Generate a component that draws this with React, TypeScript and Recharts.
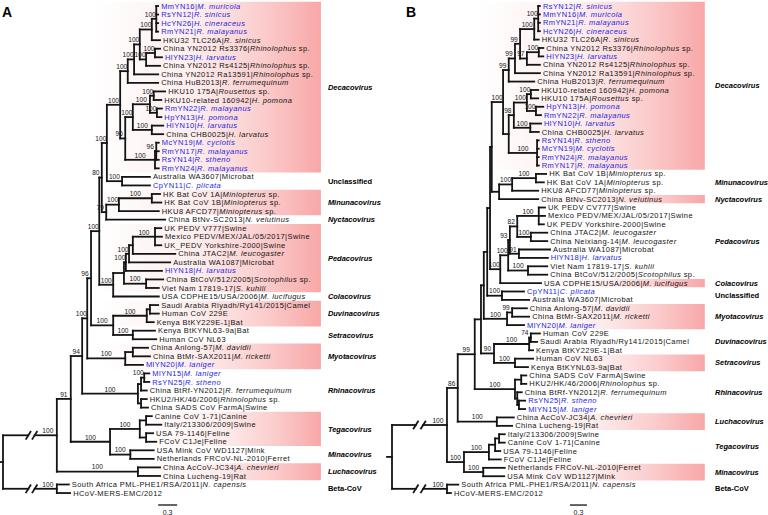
import React from "react";
import { ScatterChart, Scatter, XAxis, YAxis, ReferenceLine, ReferenceArea } from "recharts";

// leaf: [plain text, italic part, plain tail, blue?, tip depth (subs/site)]
type Leaf = [string, string, string, number, number];
// node: [id, depth, children (leaf row or node id), bootstrap]
type TreeNode = [string, number, (number | string)[], string];
// genus: [name, first row, last row, shading starts at (null = none), italic]
type Genus = [string, number, number, number | null, boolean];

const FONT = "'Liberation Sans', Arial, Helvetica, sans-serif";
const BLUE = "#2525e2";
const INK = "#141414";

const LEAVES_A: Leaf[] = [
  ["MmYN16|", "M. muricola", "", 1, 2.45],
  ["RsYN12|", "R. sinicus", "", 1, 2.45],
  ["HcYN26|", "H. cineraceus", "", 1, 2.45],
  ["RmYN21|", "R. malayanus", "", 1, 2.45],
  ["HKU32 TLC26A|", "R. sinicus", "", 0, 2.48],
  ["China YN2012 Rs3376|", "Rhinolophus", " sp.", 0, 2.48],
  ["HlYN23|", "H. larvatus", "", 1, 2.51],
  ["China YN2012 Rs4125|", "Rhinolophus", " sp.", 0, 2.48],
  ["China YN2012 Ra13591|", "Rhinolophus", " sp.", 0, 2.45],
  ["China HuB2013|", "R. ferrumequinum", "", 0, 2.45],
  ["HKU10 175A|", "Rousettus", " sp.", 0, 2.56],
  ["HKU10-related 160942|", "H. pomona", "", 0, 2.5],
  ["RmYN22|", "R. malayanus", "", 1, 2.51],
  ["HpYN13|", "H. pomona", "", 1, 2.5],
  ["HlYN10|", "H. larvatus", "", 1, 2.53],
  ["China CHB0025|", "H. larvatus", "", 0, 2.53],
  ["McYN19|", "M. cyclotis", "", 1, 2.46],
  ["RmYN17|", "R. malayanus", "", 1, 2.46],
  ["RsYN14|", "R. stheno", "", 1, 2.46],
  ["RmYN24|", "R. malayanus", "", 1, 2.46],
  ["Australia WA3607|Microbat", "", "", 0, 2.32],
  ["CpYN11|", "C. plicata", "", 1, 2.32],
  ["HK Bat CoV 1A|", "Miniopterus", " sp.", 0, 2.48],
  ["HK Bat CoV 1B|", "Miniopterus", " sp.", 0, 2.5],
  ["HKU8 AFCD77|", "Miniopterus", " sp.", 0, 2.46],
  ["China BtNv-SC2013|", "N. velutinus", "", 0, 2.56],
  ["UK PEDV V777|Swine", "", "", 0, 2.5],
  ["Mexico PEDV/MEX/JAL/05/2017|Swine", "", "", 0, 2.51],
  ["UK_PEDV Yorkshire-2000|Swine", "", "", 0, 2.5],
  ["China JTAC2|", "M. leucogaster", "", 0, 2.72],
  ["Australia WA1087|Microbat", "", "", 0, 2.64],
  ["HlYN18|", "H. larvatus", "", 1, 2.51],
  ["China BtCoV/512/2005|", "Scotophilus", " sp.", 0, 2.53],
  ["Viet Nam 17819-17|", "S. kuhlii", "", 0, 2.46],
  ["USA CDPHE15/USA/2006|", "M. lucifugus", "", 0, 2.46],
  ["Saudi Arabia Riyadh/Ry141/2015|Camel", "", "", 0, 2.45],
  ["Human CoV 229E", "", "", 0, 2.46],
  ["Kenya BtKY229E-1|Bat", "", "", 0, 2.38],
  ["Kenya BtKYNL63-9a|Bat", "", "", 0, 2.4],
  ["Human CoV NL63", "", "", 0, 2.42],
  ["China Anlong-57|", "M. davidii", "", 0, 2.29],
  ["China BtMr-SAX2011|", "M. ricketti", "", 0, 2.32],
  ["MlYN20|", "M. laniger", "", 1, 2.21],
  ["MlYN15|", "M. laniger", "", 1, 2.31],
  ["RsYN25|", "R. stheno", "", 1, 2.31],
  ["China BtRf-YN2012|", "R. ferrumequinum", "", 0, 2.27],
  ["HKU2/HK/46/2006|", "Rhinolophus", " sp.", 0, 2.27],
  ["China SADS CoV FarmA|Swine", "", "", 0, 2.29],
  ["Canine CoV 1-71|Canine", "", "", 0, 2.35],
  ["Italy/213306/2009|Swine", "", "", 0, 2.5],
  ["USA 79-1146|Feline", "", "", 0, 2.37],
  ["FCoV C1Je|Feline", "", "", 0, 2.42],
  ["USA Mink CoV WD1127|Mink", "", "", 0, 2.38],
  ["Netherlands FRCoV-NL-2010|Ferret", "", "", 0, 2.38],
  ["China AcCoV-JC34|", "A. chevrieri", "", 0, 2.48],
  ["China Lucheng-19|Rat", "", "", 0, 2.48],
  ["South Africa PML-PHE1/RSA/2011|", "N. capensis", "", 0, 1.04],
  ["HCoV-MERS-EMC/2012", "", "", 0, 1.06],
];

const NODES_A: TreeNode[] = [
  ["b1", 2.42, [0, 1, 2, 3], "100"],
  ["b2", 2.35, ["b1", 4], "100"],
  ["b3", 2.4, [5, 6], "100"],
  ["b4", 2.26, ["b3", 7], "100"],
  ["b5", 2.16, ["b2", "b4"], "100"],
  ["b6", 2.07, ["b5", 8], "100"],
  ["b7", 1.97, ["b6", 9], "100"],
  ["h1", 2.38, [10, 11], "100"],
  ["h2", 2.43, [12, 13], "100"],
  ["h3", 2.32, ["h1", "h2"], "100"],
  ["h4", 2.35, [14, 15], "100"],
  ["h5", 2.05, ["h3", "h4"], "100"],
  ["c1", 2.42, [16, 17, 18], "96"],
  ["c2", 2.4, ["c1", 19], "100"],
  ["h6", 1.93, ["h5", "c2"], "96"],
  ["dec", 1.85, ["b7", "h6"], "100"],
  ["unc", 1.88, [20, 21], "100"],
  ["n1", 1.64, ["dec", "unc"], "100"],
  ["m1", 2.35, [22, 23], "100"],
  ["m2", 1.83, ["m1", 24], "100"],
  ["n79", 1.63, ["m2", 25], "79"],
  ["n2", 1.56, ["n1", "n79"], "80"],
  ["pedv", 2.4, [26, 27, 28], "100"],
  ["pa", 2.05, ["pedv", 29], ""],
  ["pb", 1.99, ["pa", 30], "100"],
  ["pc", 1.94, ["pb", 31], "100"],
  ["pd", 2.26, [32, 33], "100"],
  ["pe", 1.91, ["pc", "pd"], ""],
  ["pf", 1.74, ["pe", 34], "100"],
  ["n3", 1.52, ["n2", "pf"], "100"],
  ["d1", 2.32, [35, 36], ""],
  ["d2", 2.27, ["d1", 37], "100"],
  ["s1", 2.05, [38, 39], "100"],
  ["ds", 1.74, ["d2", "s1"], "100"],
  ["n4", 1.39, ["n3", "ds"], "96"],
  ["my1", 2.05, [40, 41], ""],
  ["my2", 1.93, ["my1", 42], "100"],
  ["n5", 1.33, ["n4", "my2"], "100"],
  ["r1", 2.23, [43, 44], "100"],
  ["r2", 2.18, ["r1", 45], ""],
  ["r3", 2.18, [46, 47], ""],
  ["rh", 2.13, ["r2", "r3"], "100"],
  ["n6", 1.25, ["n5", "rh"], "94"],
  ["t1", 2.26, [48, 49], ""],
  ["t2", 2.26, [50, 51], ""],
  ["teg", 2.16, ["t1", "t2"], "100"],
  ["min", 2.01, [52, 53], "100"],
  ["tm", 1.69, ["teg", "min"], "100"],
  ["n7", 1.07, ["n6", "tm"], "91"],
  ["luc", 2.13, [54, 55], "100"],
  ["ing", 0.85, ["n7", "luc"], "100"],
  ["out", 0.85, [56, 57], "100"],
  ["root", 0, ["ing", "out"], ""],
];

const GENERA_A: Genus[] = [
  ["Decacovirus", 0, 19, 1.42, true],
  ["Unclassified", 20, 21, null, false],
  ["Minunacovirus", 22, 24, 1.48, true],
  ["Nyctacovirus", 25, 25, null, true],
  ["Pedacovirus", 26, 33, 1.48, true],
  ["Colacovirus", 34, 34, null, true],
  ["Duvinacovirus", 35, 37, 1.53, true],
  ["Setracovirus", 38, 39, null, true],
  ["Myotacovirus", 40, 42, 1.53, true],
  ["Rhinacovirus", 43, 47, null, true],
  ["Tegacovirus", 48, 51, 2.2, true],
  ["Minacovirus", 52, 53, null, true],
  ["Luchacovirus", 54, 55, 2.05, true],
  ["Beta-CoV", 56, 57, null, false],
];

const LEAVES_B: Leaf[] = [
  ["RsYN12|", "R. sinicus", "", 1, 2.61],
  ["MmYN16|", "M. muricola", "", 1, 2.61],
  ["RmYN21|", "R. malayanus", "", 1, 2.61],
  ["HcYN26|", "H. cineraceus", "", 1, 2.61],
  ["HKU32 TLC26A|", "R. sinicus", "", 0, 2.59],
  ["China YN2012 Rs3376|", "Rhinolophus", " sp.", 0, 2.67],
  ["HlYN23|", "H. larvatus", "", 1, 2.67],
  ["China YN2012 Rs4125|", "Rhinolophus", " sp.", 0, 2.61],
  ["China YN2012 Ra13591|", "Rhinolophus", " sp.", 0, 2.61],
  ["China HuB2013|", "R. ferrumequinum", "", 0, 2.51],
  ["HKU10-related 160942|", "H. pomona", "", 0, 2.58],
  ["HKU10 175A|", "Rousettus", " sp.", 0, 2.58],
  ["HpYN13|", "H. pomona", "", 1, 2.67],
  ["RmYN22|", "R. malayanus", "", 1, 2.63],
  ["HlYN10|", "H. larvatus", "", 1, 2.63],
  ["China CHB0025|", "H. larvatus", "", 0, 2.59],
  ["RsYN14|", "R. stheno", "", 1, 2.59],
  ["McYN19|", "M. cyclotis", "", 1, 2.59],
  ["RmYN24|", "R. malayanus", "", 1, 2.59],
  ["RmYN17|", "R. malayanus", "", 1, 2.59],
  ["HK Bat CoV 1B|", "Miniopterus", " sp.", 0, 2.72],
  ["HK Bat CoV 1A|", "Miniopterus", " sp.", 0, 2.68],
  ["HKU8 AFCD77|", "Miniopterus", " sp.", 0, 2.58],
  ["China BtNv-SC2013|", "N. velutinus", "", 0, 2.58],
  ["UK PEDV CV777|Swine", "", "", 0, 2.7],
  ["Mexico PEDV/MEX/JAL/05/2017|Swine", "", "", 0, 2.7],
  ["UK PEDV Yorkshire-2000|Swine", "", "", 0, 2.68],
  ["China JTAC2|", "M. leucogaster", "", 0, 2.74],
  ["China Neixiang-14|", "M. leucogaster", "", 0, 2.74],
  ["Australia WA1087|Microbat", "", "", 0, 2.79],
  ["HlYN18|", "H. larvatus", "", 1, 2.75],
  ["Viet Nam 17819-17|", "S. kuhlii", "", 0, 2.74],
  ["China BtCoV/512/2005|", "Scotophilus", " sp.", 0, 2.74],
  ["USA CDPHE15/USA/2006|", "M. lucifugus", "", 0, 2.63],
  ["CpYN11|", "C. plicata", "", 1, 2.33],
  ["Australia WA3607|Microbat", "", "", 0, 2.42],
  ["China Anlong-57|", "M. davidii", "", 0, 2.38],
  ["China BtMr-SAX2011|", "M. ricketti", "", 0, 2.42],
  ["MlYN20|", "M. laniger", "", 1, 2.33],
  ["Human CoV 229E", "", "", 0, 2.61],
  ["Saudi Arabia Riyadh/Ry141/2015|Camel", "", "", 0, 2.56],
  ["Kenya BtKY229E-1|Bat", "", "", 0, 2.49],
  ["Human CoV NL63", "", "", 0, 2.49],
  ["Kenya BtKYNL63-9a|Bat", "", "", 0, 2.4],
  ["China SADS CoV FarmA|Swine", "", "", 0, 2.37],
  ["HKU2/HK/46/2006|", "Rhinolophus", " sp.", 0, 2.37],
  ["China BtRf-YN2012|", "R. ferrumequinum", "", 0, 2.29],
  ["RsYN25|", "R. stheno", "", 1, 2.35],
  ["MlYN15|", "M. laniger", "", 1, 2.35],
  ["China AcCoV-JC34|", "A. chevrieri", "", 0, 2.15],
  ["China Lucheng-19|Rat", "", "", 0, 2.12],
  ["Italy/213306/2009|Swine", "", "", 0, 1.99],
  ["Canine CoV 1-71|Canine", "", "", 0, 1.99],
  ["USA 79-1146|Feline", "", "", 0, 1.91],
  ["FCoV C1Je|Feline", "", "", 0, 1.92],
  ["Netherlands FRCoV-NL-2010|Ferret", "", "", 0, 1.99],
  ["USA Mink CoV WD1127|Mink", "", "", 0, 1.98],
  ["South Africa PML-PHE1/RSA/2011|", "N. capensis", "", 0, 1.17],
  ["HCoV-MERS-EMC/2012", "", "", 0, 1.04],
];

const NODES_B: TreeNode[] = [
  ["b1", 2.58, [0, 1, 2, 3], "100"],
  ["b2", 2.51, ["b1", 4], "100"],
  ["b3", 2.59, [5, 6], "100"],
  ["b4", 2.38, ["b3", 7], "97"],
  ["b5", 2.26, ["b2", "b4"], "99"],
  ["b6", 2.17, ["b5", 8], "99"],
  ["b7", 2.06, ["b6", 9], "99"],
  ["h1", 2.45, [10, 11], "100"],
  ["h2", 2.54, [12, 13], "100"],
  ["h3", 2.38, ["h1", "h2"], "100"],
  ["h4", 2.44, [14, 15], "100"],
  ["h5", 2.15, ["h3", "h4"], "98"],
  ["c", 2.56, [16, 17, 18, 19], "100"],
  ["h6", 2.06, ["h5", "c"], ""],
  ["dec", 1.96, ["b7", "h6"], "100"],
  ["m1", 2.54, [20, 21], "100"],
  ["m2", 2.12, ["m1", 22], "100"],
  ["mn", 1.89, ["m2", 23], ""],
  ["e", 1.76, ["dec", "mn"], ""],
  ["pedv", 2.59, [24, 25, 26], "100"],
  ["jn", 2.45, [27, 28], "100"],
  ["pa", 2.21, ["pedv", "jn"], "82"],
  ["pb", 2.24, [29, 30], "91"],
  ["pc", 2.08, ["pa", "pb"], "93"],
  ["pd", 2.4, [31, 32], "100"],
  ["pe", 2.05, ["pc", "pd"], "100"],
  ["pf", 1.91, ["pe", 33], "100"],
  ["g1", 1.73, ["e", "pf"], ""],
  ["u", 1.94, [34, 35], "100"],
  ["g2", 1.68, ["g1", "u"], ""],
  ["my1", 2.12, [36, 37], "99"],
  ["my2", 2.03, ["my1", 38], "100"],
  ["g3", 1.62, ["g2", "my2"], ""],
  ["du1", 2.45, [39, 40], "74"],
  ["du2", 2.42, ["du1", 41], "100"],
  ["s", 2.17, [42, 43], "100"],
  ["ds", 1.8, ["du2", "s"], "90"],
  ["g4", 1.57, ["g3", "ds"], ""],
  ["r1", 2.28, [44, 45], ""],
  ["r2", 2.24, [47, 48], ""],
  ["r3", 2.21, [46, "r2"], ""],
  ["rh", 2.17, ["r1", "r3"], "100"],
  ["n99", 1.46, ["g4", "rh"], "99"],
  ["luc", 1.85, [49, 50], "100"],
  ["n86", 1.16, ["n99", "luc"], "86"],
  ["t1", 1.89, [51, 52], ""],
  ["t2", 1.82, ["t1", 53], ""],
  ["teg", 1.71, ["t2", 54], "100"],
  ["min", 1.61, [55, 56], "100"],
  ["tm", 1.27, ["teg", "min"], "100"],
  ["ing", 0.97, ["n86", "tm"], "100"],
  ["out", 0.97, [57, 58], "100"],
  ["root", 0, ["ing", "out"], ""],
];

const GENERA_B: Genus[] = [
  ["Decacovirus", 0, 19, 1.5, true],
  ["Minunacovirus", 20, 22, null, true],
  ["Nyctacovirus", 23, 23, 2.4, true],
  ["Pedacovirus", 24, 32, null, true],
  ["Colacovirus", 33, 33, 2.45, true],
  ["Unclassified", 34, 35, null, false],
  ["Myotacovirus", 36, 38, 2.15, true],
  ["Duvinacovirus", 39, 41, null, true],
  ["Setracovirus", 42, 43, 2.3, true],
  ["Rhinacovirus", 44, 48, null, true],
  ["Luchacovirus", 49, 50, 1.95, true],
  ["Tegacovirus", 51, 54, null, true],
  ["Minacovirus", 55, 56, 1.85, true],
  ["Beta-CoV", 57, 58, null, false],
];

interface PanelCfg {
  letter: string;
  leaves: Leaf[];
  nodes: TreeNode[];
  genera: Genus[];
  pxPerUnit: number;
  xDomain: [number, number];
  yDomain: [number, number];
  genusX: number;
  bandEnd: number;
  breaks: [number, number];
  stub: number;
  scaleAt: [number, number, number];
  letterAt: [number, number];
}

const PANELS: PanelCfg[] = [
  {
    letter: "A", leaves: LEAVES_A, nodes: NODES_A, genera: GENERA_A,
    pxPerUnit: 63.33, xDomain: [-0.0474, 6.016], yDomain: [-0.702, 59.57],
    genusX: 5.13, bandEnd: 5.02, breaks: [0.4, 0.5], stub: 0.047,
    scaleAt: [2.45, 58.4, 59.3], letterAt: [-0.016, 0.7],
  },
  {
    letter: "B", leaves: LEAVES_B, nodes: NODES_B, genera: GENERA_B,
    pxPerUnit: 56.67, xDomain: [-0.1412, 6.635], yDomain: [-0.7145, 60.617],
    genusX: 5.7, bandEnd: 5.52, breaks: [0.42, 0.55], stub: 0.088,
    scaleAt: [3.14, 59.43, 60.35], letterAt: [0.247, 0.71],
  },
];

type Seg = { x1: number; y1: number; x2: number; y2: number };

function buildTree(cfg: PanelCfg) {
  const pos = new Map<string, { x: number; y: number }>();
  cfg.leaves.forEach((l, i) => pos.set(String(i), { x: l[4], y: i }));
  const parent = new Map<string, string>();
  cfg.nodes.forEach(([id, , kids]) => kids.forEach((k) => parent.set(String(k), id)));
  const rootId = cfg.nodes[cfg.nodes.length - 1][0];
  const segs: Seg[] = [];
  const ppu = cfg.pxPerUnit;

  cfg.nodes.forEach(([id, d, kids]) => {
    const ys = kids.map((k) => pos.get(String(k))!.y);
    pos.set(id, { x: d, y: ys.reduce((a, b) => a + b, 0) / ys.length });
    segs.push({ x1: d, y1: Math.min(...ys), x2: d, y2: Math.max(...ys) });
    kids.forEach((k) => {
      const c = pos.get(String(k))!;
      if (id === rootId) {
        // long root branches are drawn broken: a gap with two slashes
        const [b0, b1] = cfg.breaks;
        segs.push({ x1: d, y1: c.y, x2: b0, y2: c.y });
        segs.push({ x1: b1, y1: c.y, x2: c.x, y2: c.y });
        const w = 2.2 / ppu;
        [b0, b1].forEach((b) => segs.push({ x1: b - w, y1: c.y + 0.42, x2: b + w, y2: c.y - 0.42 }));
      } else {
        segs.push({ x1: d, y1: c.y, x2: c.x, y2: c.y });
      }
    });
  });
  const root = pos.get(rootId)!;
  segs.push({ x1: root.x - cfg.stub, y1: root.y, x2: root.x, y2: root.y });

  // bootstrap values sit above the branch leading into the node
  const supports = cfg.nodes
    .filter(([, , , s]) => s !== "")
    .map(([id, d, , s]) => {
      const p = parent.get(id)!;
      const pd = pos.get(p)!.x;
      const x = p === rootId ? d - 9 / ppu : Math.min((pd + d) / 2, d - 6 / ppu);
      return { x, y: pos.get(id)!.y, s };
    });
  return { segs, supports };
}

const LeafLabel = (p: any) => {
  const { cx, cy, payload } = p;
  return (
    <text x={cx + 3} y={cy} dy="0.34em" fontSize={7.5} letterSpacing={0.42} fontFamily={FONT}
      fill={payload.blue ? BLUE : INK}>
      {payload.pre}
      {payload.it ? <tspan fontStyle="italic">{payload.it}</tspan> : null}
      {payload.post}
    </text>
  );
};

const SupportLabel = (p: any) => (
  <text x={p.cx} y={p.cy - 2.2} textAnchor="middle" fontSize={6.6} fontFamily={FONT} fill={INK}>
    {p.payload.s}
  </text>
);

const GenusLabel = (p: any) => (
  <text x={p.cx} y={p.cy} dy="0.34em" fontSize={7.5} fontWeight="bold"
    fontStyle={p.payload.italic ? "italic" : "normal"} fontFamily={FONT} fill="#000">
    {p.payload.name}
  </text>
);

const NoteLabel = (p: any) =>
  p.payload.kind === "letter" ? (
    <text x={p.cx} y={p.cy} dy="0.36em" fontSize={14} fontWeight="bold" fontFamily={FONT} fill="#000">
      {p.payload.text}
    </text>
  ) : (
    <text x={p.cx} y={p.cy} dy="0.34em" textAnchor="middle" fontSize={7} fontFamily={FONT} fill={INK}>
      {p.payload.text}
    </text>
  );

function Panel({ cfg }: { cfg: PanelCfg }) {
  const { segs, supports } = buildTree(cfg);
  const leafPts = cfg.leaves.map((l, i) => ({ x: l[4], y: i, pre: l[0], it: l[1], post: l[2], blue: l[3] === 1 }));
  const genusPts = cfg.genera.map((g) => ({ x: cfg.genusX, y: (g[1] + g[2]) / 2, name: g[0], italic: g[4] }));
  const [sx, sy, sly] = cfg.scaleAt;
  const notePts = [
    { x: cfg.letterAt[0], y: cfg.letterAt[1], kind: "letter", text: cfg.letter },
    { x: sx + 0.15, y: sly, kind: "scale", text: "0.3" },
  ];
  const gid = `band${cfg.letter}`;
  return (
    <ScatterChart width={384} height={515} margin={{ top: 0, right: 0, bottom: 0, left: 0 }}>
      <defs>
        <linearGradient id={gid} x1="0" y1="0" x2="1" y2="0">
          <stop offset="0" stopColor="#ffffff" />
          <stop offset="0.45" stopColor="#fdeded" />
          <stop offset="0.75" stopColor="#fbcccc" />
          <stop offset="1" stopColor="#f8a7a7" />
        </linearGradient>
      </defs>
      <XAxis type="number" dataKey="x" domain={cfg.xDomain} hide allowDataOverflow />
      <YAxis type="number" dataKey="y" domain={cfg.yDomain} reversed hide allowDataOverflow />
      {cfg.genera
        .filter((g) => g[3] !== null)
        .map((g) => (
          <ReferenceArea key={g[0]} x1={g[3] as number} x2={cfg.bandEnd} y1={g[1] - 0.5} y2={g[2] + 0.5}
            fill={`url(#${gid})`} fillOpacity={1} stroke="none" ifOverflow="visible" />
        ))}
      {segs.map((s, i) => (
        <ReferenceLine key={i} segment={[{ x: s.x1, y: s.y1 }, { x: s.x2, y: s.y2 }]}
          stroke={INK} strokeWidth={1.8} strokeLinecap="square" ifOverflow="visible" />
      ))}
      <ReferenceLine segment={[{ x: sx, y: sy }, { x: sx + 0.3, y: sy }]} stroke={INK} strokeWidth={1.3} ifOverflow="visible" />
      <Scatter data={leafPts} shape={LeafLabel} isAnimationActive={false} />
      <Scatter data={supports} shape={SupportLabel} isAnimationActive={false} />
      <Scatter data={genusPts} shape={GenusLabel} isAnimationActive={false} />
      <Scatter data={notePts} shape={NoteLabel} isAnimationActive={false} />
    </ScatterChart>
  );
}

export default function App() {
  return (
    <div style={{ position: "absolute", left: 0, top: 0, width: 768, height: 515, display: "flex", background: "#fff" }}>
      {PANELS.map((cfg) => (
        <Panel key={cfg.letter} cfg={cfg} />
      ))}
    </div>
  );
}
